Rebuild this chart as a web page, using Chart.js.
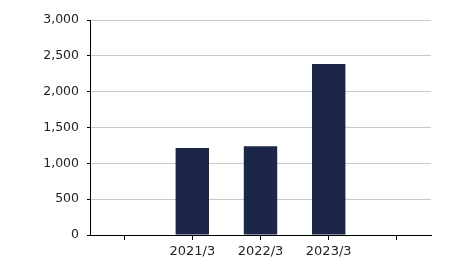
<!DOCTYPE html>
<html>
<head>
<meta charset="utf-8">
<script src="https://cdn.jsdelivr.net/npm/chart.js@4/dist/chart.umd.min.js"></script>
<style>
  html, body { margin: 0; padding: 0; background: #fff; }
  #wrap { width: 450px; height: 265px; }
</style>
</head>
<body>
<div id="wrap"><canvas id="barChart" width="450" height="265"></canvas></div>
<script>
// categories (empty slots at both ends, like the original)
const categories = ["", "2021/3", "2022/3", "2023/3", ""];
const values = [null, 1215, 1240, 2385, null];
const yTicks = [0, 500, 1000, 1500, 2000, 2500, 3000];

const ctx = document.getElementById("barChart").getContext("2d");

new Chart(ctx, {
  type: "bar",
  data: {
    labels: categories,
    datasets: [{
      data: values,
      backgroundColor: "#1b2649",
      categoryPercentage: 1,
      barPercentage: 0.49
    }]
  },
  options: {
    responsive: false,
    animation: false,
    layout: { padding: { top: 20, right: 19, left: 0, bottom: 0 } },
    plugins: {
      legend: { display: false },
      tooltip: { enabled: false }
    },
    scales: {
      x: {
        offset: true,
        grid: {
          offset: false,
          drawOnChartArea: false,
          tickLength: 5,
          tickColor: "#000",
          tickWidth: 1
        },
        border: { color: "#000", width: 1 },
        ticks: {
          color: "#222",
          font: { family: "DejaVu Sans", size: 13 },
          padding: 4,
          maxRotation: 0,
          autoSkip: false
        },
        afterFit: s => { s.height = 30; }
      },
      y: {
        min: 0,
        max: 3000,
        afterBuildTicks: s => { s.ticks = yTicks.map(v => ({ value: v })); },
        grid: {
          color: "#c8c8c8",
          tickColor: "#000",
          tickLength: 3
        },
        border: { color: "#000", width: 1 },
        ticks: {
          color: "#222",
          font: { family: "DejaVu Sans", size: 12.5 },
          padding: 8,
          callback: v => v.toLocaleString("en-US")
        },
        afterFit: s => { s.width = 90; }
      }
    }
  }
});
</script>
</body>
</html>
